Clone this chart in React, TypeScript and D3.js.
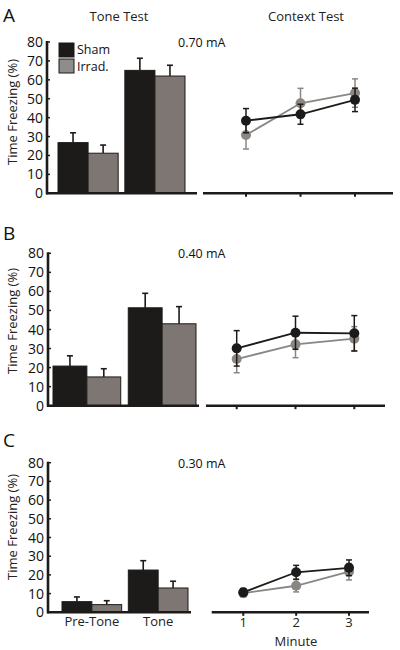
import React from "react";
import * as d3 from "d3";

const groups = ["Pre-Tone", "Tone"];
const minutes = [1, 2, 3];
const yTicks = [0, 10, 20, 30, 40, 50, 60, 70, 80];
const panelLetters = ["A", "B", "C"];
const shockLabels = ["0.70 mA", "0.40 mA", "0.30 mA"];
const seriesNames = ["Sham", "Irrad."];

const shamBarA = [26.8, 65];
const shamBarErrA = [5.2, 6.4];
const irradBarA = [21.2, 62];
const irradBarErrA = [4.3, 5.7];
const shamLineA = [38.4, 41.8, 49.4];
const shamLineErrA = [6.4, 5.3, 6.2];
const irradLineA = [30.8, 47.6, 53];
const irradLineErrA = [7.4, 7.9, 7.5];

const shamBarB = [20.8, 51.4];
const shamBarErrB = [5.4, 7.6];
const irradBarB = [15.1, 43];
const irradBarErrB = [4.3, 9];
const shamLineB = [30.1, 38.3, 38];
const shamLineErrB = [9.3, 8.7, 9.3];
const irradLineB = [24.5, 32.2, 35.2];
const irradLineErrB = [7.2, 7, 6.3];

const shamBarC = [5.7, 22.6];
const shamBarErrC = [2.5, 5];
const irradBarC = [4.1, 13];
const irradBarErrC = [2.1, 3.6];
const shamLineC = [10.7, 21.4, 23.8];
const shamLineErrC = [2, 3.7, 4.2];
const irradLineC = [10.2, 14.2, 21.7];
const irradLineErrC = [2, 3.3, 4.4];

const BLACK = "#1c1b19";
const GRAY_BAR = "#7e7672";
const GRAY_LINE = "#8b8682";
const GRAY_LEGEND = "#8f8d8b";
const FONT = "'Open Sans', 'Liberation Sans', sans-serif";

const panelData = [
  { sb: shamBarA, sbe: shamBarErrA, ib: irradBarA, ibe: irradBarErrA, sl: shamLineA, sle: shamLineErrA, il: irradLineA, ile: irradLineErrA },
  { sb: shamBarB, sbe: shamBarErrB, ib: irradBarB, ibe: irradBarErrB, sl: shamLineB, sle: shamLineErrB, il: irradLineB, ile: irradLineErrB },
  { sb: shamBarC, sbe: shamBarErrC, ib: irradBarC, ibe: irradBarErrC, sl: shamLineC, sle: shamLineErrC, il: irradLineC, ile: irradLineErrC },
];

const layouts = [
  { y0: 193.3, y80: 42, axisX: 47, barRange: [58, 185], barAxisEnd: 197, lineAxis: [203, 393], tick1: 246, tick3: 355, letterY: 22, ylabY: 112 },
  { y0: 405.7, y80: 253.3, axisX: 48, barRange: [53, 196], barAxisEnd: 199, lineAxis: [206, 385], tick1: 236.7, tick3: 354.3, letterY: 240, ylabY: 321 },
  { y0: 612.3, y80: 462.7, axisX: 48, barRange: [62, 188], barAxisEnd: 191, lineAxis: [211.7, 369], tick1: 243.3, tick3: 349, letterY: 447, ylabY: 527 },
];

function Panel({ i }: { i: number }) {
  const L = layouts[i];
  const D = panelData[i];
  const y = d3.scaleLinear().domain([0, 80]).range([L.y0, L.y80]);
  const xg = d3.scaleBand().domain(groups).range(L.barRange as [number, number]).paddingInner(0.1).paddingOuter(0);
  const xs = d3.scaleBand().domain(seriesNames).range([0, xg.bandwidth()]).padding(0);
  const xl = d3.scaleLinear().domain([1, 3]).range([L.tick1, L.tick3]);
  const line = d3.line<number>().x((_, k) => xl(minutes[k])).y((v) => y(v));
  const bars = [
    { vals: D.sb, errs: D.sbe, fill: BLACK, name: seriesNames[0] },
    { vals: D.ib, errs: D.ibe, fill: GRAY_BAR, name: seriesNames[1] },
  ];
  const lines = [
    { vals: D.il, errs: D.ile, color: GRAY_LINE },
    { vals: D.sl, errs: D.sle, color: BLACK },
  ];
  return (
    <g>
      <text x={3} y={L.letterY} fontSize={19} fontFamily={FONT} fill="#111">{panelLetters[i]}</text>
      <text x={178} y={L.y80 + 5} fontSize={12.5} fontFamily={FONT} fill="#111">{shockLabels[i]}</text>
      <text transform={`translate(17,${L.ylabY}) rotate(-90)`} textAnchor="middle" fontSize={13} fontFamily={FONT} fill="#222">Time Freezing (%)</text>
      {yTicks.map((t) => (
        <g key={t}>
          <text x={L.axisX - 4} y={y(t) + 5} textAnchor="end" fontSize={14} fontFamily={FONT} fill="#111">{t}</text>
          <line x1={L.axisX} x2={L.axisX + 3} y1={y(t)} y2={y(t)} stroke={BLACK} strokeWidth={1.5} />
        </g>
      ))}
      {bars.map((s) =>
        groups.map((g, k) => {
          const x0 = (xg(g) as number) + (xs(s.name) as number);
          const w = xs.bandwidth();
          const cx = x0 + w / 2;
          const top = y(s.vals[k]);
          const et = y(s.vals[k] + s.errs[k]);
          return (
            <g key={s.name + g}>
              <line x1={cx} x2={cx} y1={top} y2={et} stroke={BLACK} strokeWidth={1.6} />
              <line x1={cx - 3} x2={cx + 3} y1={et} y2={et} stroke={BLACK} strokeWidth={1.6} />
              <rect x={x0} y={top} width={w} height={L.y0 - top} fill={s.fill} stroke={BLACK} strokeWidth={1} />
            </g>
          );
        })
      )}
      <line x1={L.axisX} x2={L.axisX} y1={L.y80 - 1} y2={L.y0 + 1} stroke={BLACK} strokeWidth={2.6} />
      <line x1={L.axisX - 1} x2={L.barAxisEnd} y1={L.y0} y2={L.y0} stroke={BLACK} strokeWidth={2.6} />
      <line x1={L.lineAxis[0]} x2={L.lineAxis[1]} y1={L.y0} y2={L.y0} stroke={BLACK} strokeWidth={2.6} />
      {minutes.map((m) => (
        <line key={m} x1={xl(m)} x2={xl(m)} y1={L.y0} y2={L.y0 + 3.5} stroke={BLACK} strokeWidth={2} />
      ))}
      {lines.map((s, si) => (
        <g key={si}>
          <path d={line(s.vals) || ""} fill="none" stroke={s.color} strokeWidth={1.8} />
          {s.vals.map((v, k) => {
            const cx = xl(minutes[k]);
            const a = y(v + s.errs[k]);
            const b = y(v - s.errs[k]);
            return (
              <g key={k}>
                <line x1={cx} x2={cx} y1={a} y2={b} stroke={s.color} strokeWidth={1.5} />
                <line x1={cx - 3} x2={cx + 3} y1={a} y2={a} stroke={s.color} strokeWidth={1.5} />
                <line x1={cx - 3} x2={cx + 3} y1={b} y2={b} stroke={s.color} strokeWidth={1.5} />
                <circle cx={cx} cy={y(v)} r={5} fill={s.color} />
              </g>
            );
          })}
        </g>
      ))}
    </g>
  );
}

export default function App() {
  const Lc = layouts[2];
  const xgC = d3.scaleBand().domain(groups).range(Lc.barRange as [number, number]).paddingInner(0.1).paddingOuter(0);
  const xlC = d3.scaleLinear().domain([1, 3]).range([Lc.tick1, Lc.tick3]);
  return (
    <svg width={400} height={650} style={{ position: "absolute", left: 0, top: 0, background: "#fff" }}>
      <rect x={0} y={0} width={400} height={650} fill="#fff" />
      <text x={119} y={21} textAnchor="middle" fontSize={13} fontFamily={FONT} fill="#222">Tone Test</text>
      <text x={306} y={21} textAnchor="middle" fontSize={13} fontFamily={FONT} fill="#222">Context Test</text>
      {[0, 1, 2].map((i) => <Panel key={i} i={i} />)}
      <rect x={59} y={43} width={15} height={14} fill={BLACK} stroke={BLACK} strokeWidth={1} />
      <rect x={59} y={59} width={15} height={14} fill={GRAY_LEGEND} stroke={BLACK} strokeWidth={1} />
      <text x={77} y={54} fontSize={12.5} fontFamily={FONT} fill="#111">{seriesNames[0]}</text>
      <text x={77} y={71} fontSize={12.5} fontFamily={FONT} fill="#111">{seriesNames[1]}</text>
      {groups.map((g) => (
        <text key={g} x={(xgC(g) as number) + xgC.bandwidth() / 2} y={626} textAnchor="middle" fontSize={13} fontFamily={FONT} fill="#222">{g}</text>
      ))}
      {minutes.map((m) => (
        <text key={m} x={xlC(m)} y={627} textAnchor="middle" fontSize={13} fontFamily={FONT} fill="#222">{m}</text>
      ))}
      <text x={296} y={646} textAnchor="middle" fontSize={13} fontFamily={FONT} fill="#222">Minute</text>
    </svg>
  );
}
